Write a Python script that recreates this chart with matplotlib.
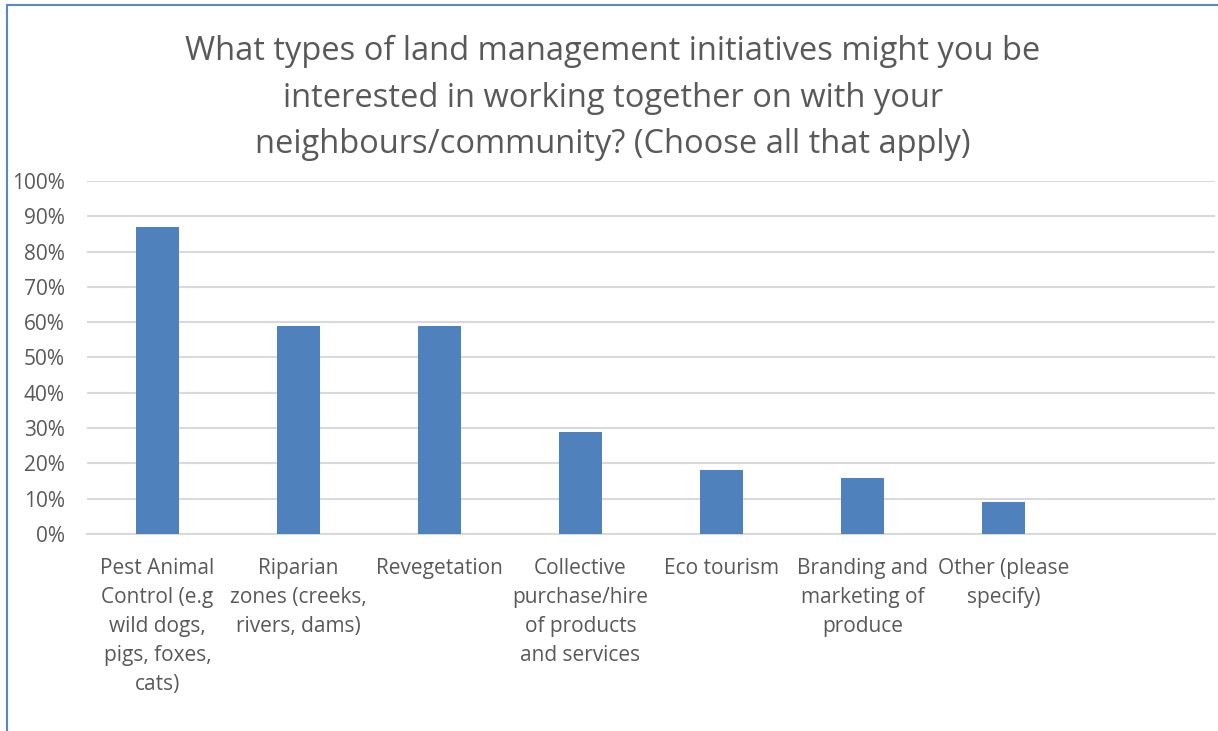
import matplotlib.pyplot as plt
from matplotlib.patches import Rectangle
from matplotlib.ticker import PercentFormatter

plt.rcParams["font.family"] = ["Open Sans", "DejaVu Sans"]

title = ("What types of land management initiatives might you be\n"
         "interested in working together on with your\n"
         "neighbours/community? (Choose all that apply)")

categories = [
    "Pest Animal\nControl (e.g\nwild dogs,\npigs, foxes,\ncats)",
    "Riparian\nzones (creeks,\nrivers, dams)",
    "Revegetation",
    "Collective\npurchase/hire\nof products\nand services",
    "Eco tourism",
    "Branding and\nmarketing of\nproduce",
    "Other (please\nspecify)",
]
values = [87, 59, 59, 29, 18, 16, 9]
yticks = [0, 10, 20, 30, 40, 50, 60, 70, 80, 90, 100]

text_grey = "#595959"
bar_blue = "#4F81BD"

fig = plt.figure(figsize=(12.18, 7.31), dpi=100)
ax = fig.add_axes([0.0714, 0.2695, 0.9261, 0.4829])

x = list(range(len(categories)))
ax.bar(x, values, width=0.31, color=bar_blue, zorder=3)

# eight category slots on the axis, the last one left empty
ax.set_xlim(-0.5, 7.5)
ax.set_ylim(0, 100)
ax.set_yticks(yticks)
ax.yaxis.set_major_formatter(PercentFormatter(decimals=0))
ax.set_xticks(x)
ax.set_xticklabels(categories, linespacing=1.5)

ax.grid(axis="y", color="#D9D9D9", linewidth=1.5, zorder=0)
for side in ["top", "right", "left"]:
    ax.spines[side].set_visible(False)
ax.spines["bottom"].set_color("#D9D9D9")
ax.spines["bottom"].set_linewidth(1.5)
ax.tick_params(axis="both", length=0, colors=text_grey)
ax.tick_params(axis="x", pad=17, labelsize=15)
ax.tick_params(axis="y", pad=16, labelsize=15)

fig.text(0.503, 0.866, title, ha="center", va="center", fontsize=23.5,
         color=text_grey, linespacing=1.53)

# chart frame, running off the right and bottom edges
fig.patches.append(Rectangle((7 / 1218, -0.1), 1.2, 0.1 + (731 - 5) / 731,
                             transform=fig.transFigure, fill=False,
                             edgecolor="#5B87C5", linewidth=1.5))

fig.savefig("out.png", dpi=100)
